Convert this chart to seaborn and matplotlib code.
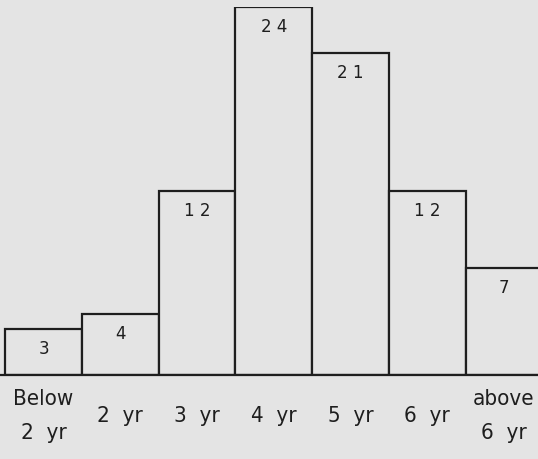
import pandas as pd
import seaborn as sns
import matplotlib.pyplot as plt

# age groups and counts
categories = ['Below\n2  yr', '2  yr', '3  yr', '4  yr', '5  yr', '6  yr', 'above\n6  yr']
counts = [3, 4, 12, 24, 21, 12, 7]

data = pd.DataFrame({'Age': categories, 'Count': counts})

bg = '#e4e4e4'
ink = '#1e1e1e'

sns.set_style('white')
plt.rcParams['font.family'] = ['DejaVu Sans']

fig = plt.figure(figsize=(5.38, 4.6), dpi=100, facecolor=bg)
ax = fig.add_axes([0, 84 / 460, 1, 368 / 460])
ax.set_facecolor(bg)

sns.barplot(x='Age', y='Count', data=data, color=bg, saturation=1,
            edgecolor=ink, linewidth=1.6, width=1.0, ax=ax)

ax.set_xlim(-0.567, 6.443)
ax.set_ylim(0, 24)
ax.set_yticks([])
ax.set_xlabel('')
ax.set_ylabel('')
for side in ['top', 'left', 'right']:
    ax.spines[side].set_visible(False)
ax.spines['bottom'].set_color(ink)
ax.spines['bottom'].set_linewidth(1.6)
ax.spines['bottom'].set_zorder(5)

ax.tick_params(axis='x', length=0, pad=29, labelsize=16, labelcolor=ink)
for lab in ax.get_xticklabels():
    lab.set_verticalalignment('center')
    lab.set_linespacing(1.9)
    lab.set_fontstretch('condensed')

# values written inside each bar, just under the top edge
for i, v in enumerate(counts):
    ax.annotate(' '.join(str(v)), (i, v), xytext=(0, -14), textcoords='offset points',
                ha='center', va='center', fontsize=12, color=ink)

fig.savefig('out.png', dpi=100, facecolor=bg)
